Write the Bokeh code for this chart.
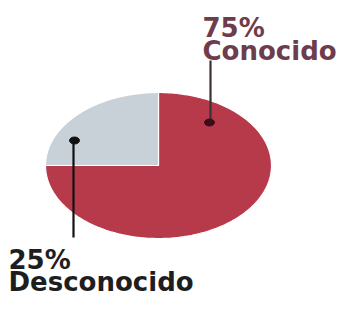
import numpy as np
from bokeh.plotting import figure
from bokeh.models import Range1d
from bokeh.core.properties import value
from bokeh.embed import file_html
from bokeh.resources import INLINE

# ---- data ----
categories = ["Conocido", "Desconocido"]
shares = [75, 25]
pct_labels = ["75%", "25%"]
slice_colors = ["#b73a4a", "#c8d1d7"]
label_colors = ["#6d3d4c", "#1e1e1e"]
dot_colors = ["#3b0d18", "#111111"]

# ---- layout (pixel units) ----
W, H = 345, 295
cx, cy, rx, ry = 158, 165, 113, 73

p = figure(width=W, height=H, x_range=Range1d(0, W), y_range=Range1d(H, 0),
           output_backend="svg", toolbar_location=None, min_border=0)
p.axis.visible = False
p.grid.visible = False
p.outline_line_color = None
p.background_fill_color = "white"
p.border_fill_color = "white"

# slices: start at top (90 deg), going clockwise
total = float(sum(shares))
xs, ys = [], []
a0 = np.pi / 2
for s in shares:
    a1 = a0 - 2 * np.pi * s / total
    t = np.linspace(a0, a1, 200)
    xs.append([cx] + list(cx + rx * np.cos(t)))
    ys.append([cy] + list(cy - ry * np.sin(t)))
    a0 = a1
p.patches(xs, ys, fill_color=slice_colors, line_color="white", line_width=1.2)

# leader dots and lines
dot_x = [209, 74]
dot_y = [122, 140]
p.segment(x0=[210, 73], y0=[122, 140], x1=[210, 73], y1=[60, 237],
          line_color=["#3a3236", "#111111"], line_width=2.2)
p.ellipse(x=dot_x, y=dot_y, width=10, height=7, fill_color=dot_colors,
          line_color=dot_colors)

# labels
font = value("DejaVu Sans")
p.text(x=[202, 202], y=[27, 50], text=[pct_labels[0], categories[0]],
       text_font=font, text_font_style="bold", text_font_size="26px",
       text_color=label_colors[0], text_baseline="alphabetic", text_align="left")
p.text(x=[8, 8], y=[259, 281], text=[pct_labels[1], categories[1]],
       text_font=font, text_font_style="bold", text_font_size="26px",
       text_color=label_colors[1], text_baseline="alphabetic", text_align="left")

open("out.html", "w").write(file_html(p, INLINE))
